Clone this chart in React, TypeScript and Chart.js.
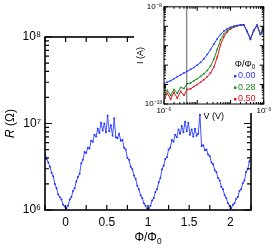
import React, { useEffect, useRef } from 'react';
import { Chart, registerables } from 'chart.js';
Chart.register(...registerables);

// ---------- main panel data: R (Ohm) vs flux ----------
const phi = [
  -0.25, -0.23, -0.21, -0.19, -0.17, -0.15, -0.13, -0.11, -0.09, -0.07, -0.05, -0.03, -0.01,
  0.01, 0.03, 0.05, 0.07, 0.09, 0.11, 0.13, 0.15, 0.17, 0.19, 0.21, 0.23, 0.25, 0.27, 0.29,
  0.31, 0.33, 0.35, 0.37, 0.39, 0.41, 0.43, 0.45, 0.47, 0.49, 0.51, 0.53, 0.55, 0.57, 0.59,
  0.61, 0.63, 0.65, 0.67, 0.69, 0.71, 0.73, 0.75, 0.77, 0.79, 0.81, 0.83, 0.85, 0.87, 0.89,
  0.91, 0.93, 0.95, 0.97, 0.99, 1.01, 1.03, 1.05, 1.07, 1.09, 1.11, 1.13, 1.15, 1.17, 1.19,
  1.21, 1.23, 1.25, 1.27, 1.29, 1.31, 1.33, 1.35, 1.37, 1.39, 1.41, 1.43, 1.45, 1.47, 1.49,
  1.51, 1.53, 1.55, 1.57, 1.59, 1.61, 1.63, 1.65, 1.67, 1.69, 1.71, 1.73, 1.75, 1.77, 1.79,
  1.81, 1.83, 1.85, 1.87, 1.89, 1.91, 1.93, 1.95, 1.97, 1.99, 2.01, 2.03, 2.05, 2.07, 2.09,
  2.11, 2.13, 2.15, 2.17, 2.19, 2.21, 2.23, 2.25,
];
const resistanceMOhm = [
  4.47, 3.89, 3.55, 3.16, 2.69, 2.45, 2.0, 1.78, 1.51, 1.41, 1.32, 1.15, 1.1,
  1.05, 1.12, 1.32, 1.41, 1.66, 1.78, 2.14, 2.4, 2.63, 3.47, 3.8, 4.68, 4.57, 5.25, 5.13,
  6.31, 6.17, 7.41, 7.08, 8.71, 7.76, 10.23, 8.32, 10.0, 7.94, 12.3, 8.13, 9.55, 7.24, 11.48,
  6.92, 6.76, 7.59, 6.31, 6.46, 5.25, 5.01, 3.98, 3.8, 3.16, 2.95, 2.51, 2.29, 1.91, 1.74,
  1.48, 1.38, 1.2, 1.12, 1.02, 1.05, 1.12, 1.29, 1.38, 1.62, 1.74, 2.09, 2.34, 2.95, 3.24,
  3.89, 4.07, 5.01, 5.25, 6.46, 6.17, 7.41, 6.92, 8.51, 7.59, 9.33, 7.94, 10.47, 8.13, 10.23,
  7.41, 8.51, 7.08, 8.71, 7.24, 7.59, 12.59, 5.5, 5.62, 4.9, 5.01, 4.37, 4.17, 3.55, 3.39,
  2.88, 2.75, 2.34, 2.19, 1.86, 1.74, 1.48, 1.38, 1.2, 1.12, 1.05, 1.15, 1.2, 1.35, 1.41,
  1.66, 1.74, 2.04, 2.19, 2.75, 2.95, 3.63, 4.17,
];
const mainXLabels = [0, 0.5, 1, 1.5, 2];
const mainXTickMarks = [-0.25, 0, 0.25, 0.5, 0.75, 1, 1.25, 1.5, 1.75, 2, 2.25];
const mainYLabels = [1e6, 1e7, 1e8];

// ---------- inset data: I (A) vs V (V) ----------
const voltage = [
  1.0e-6, 1.26e-6, 1.58e-6, 2.0e-6, 2.51e-6, 3.16e-6, 3.98e-6, 5.01e-6, 6.31e-6, 7.94e-6,
  1.0e-5, 1.26e-5, 1.58e-5, 2.0e-5, 2.51e-5, 3.16e-5, 3.98e-5, 5.01e-5, 6.31e-5, 7.94e-5,
  1.0e-4, 1.26e-4, 1.58e-4, 2.0e-4, 2.51e-4, 3.16e-4, 3.98e-4, 5.01e-4, 6.31e-4, 7.94e-4,
  1.0e-3,
];
const current000 = [
  1.12e-12, 1.35e-12, 1.58e-12, 2.0e-12, 2.51e-12, 3.16e-12, 3.98e-12, 4.79e-12, 6.03e-12, 7.59e-12,
  1.0e-11, 1.38e-11, 2.09e-11, 3.55e-11, 6.31e-11, 1.2e-10, 2.24e-10, 3.8e-10, 5.62e-10, 7.41e-10,
  8.91e-10, 1.0e-9, 1.1e-9, 1.17e-9, 1.2e-9, 5.62e-10, 2.24e-10, 6.31e-10, 1.17e-9, 3.98e-10,
  8.91e-10,
];
const current028 = [
  2.51e-13, 5.01e-13, 2.82e-13, 5.62e-13, 3.55e-13, 7.08e-13, 6.31e-13, 1.12e-12, 1.2e-12, 1.58e-12,
  2.0e-12, 2.63e-12, 3.55e-12, 5.25e-12, 8.91e-12, 2.0e-11, 6.31e-11, 2.0e-10, 3.98e-10, 6.03e-10,
  7.94e-10, 9.55e-10, 1.07e-9, 1.15e-9, 1.17e-9, 5.37e-10, 2.19e-10, 6.03e-10, 1.12e-9, 3.8e-10,
  8.51e-10,
];
const current050 = [
  1.78e-13, 3.55e-13, 1.78e-13, 3.98e-13, 2.0e-13, 4.47e-13, 2.82e-13, 5.62e-13, 6.03e-13, 7.94e-13,
  1.0e-12, 1.32e-12, 1.78e-12, 2.51e-12, 3.98e-12, 7.94e-12, 2.51e-11, 1.12e-10, 2.82e-10, 5.01e-10,
  7.08e-10, 8.91e-10, 1.02e-9, 1.12e-9, 1.15e-9, 5.25e-10, 2.09e-10, 5.89e-10, 1.1e-9, 3.72e-10,
  8.32e-10,
];
const insetSeriesLabels = ['0.00', '0.28', '0.50'];
const insetColors = ['#2f3dff', '#1e8a1e', '#e3121b'];
const insetXLabels = [1e-6, 1e-3];
const insetYLabels = [1e-13, 1e-8];
const markerVoltage = 4.8e-6;

const FONT = '"Liberation Sans", Arial, sans-serif';
const SUP: Record<string, string> = {
  '-': '⁻', '0': '⁰', '1': '¹', '2': '²', '3': '³', '4': '⁴', '5': '⁵', '6': '⁶', '7': '⁷', '8': '⁸', '9': '⁹',
};
const expLabel = (v: number) =>
  '10' + String(Math.round(Math.log10(v))).split('').map((c) => SUP[c]).join('');

function logTicks(min: number, max: number) {
  const out: { v: number; major: boolean }[] = [];
  for (let e = Math.floor(Math.log10(min)); e <= Math.ceil(Math.log10(max)); e++) {
    for (let m = 1; m < 10; m++) {
      const v = m * Math.pow(10, e);
      if (v >= min * 0.999 && v <= max * 1.001) out.push({ v, major: m === 1 });
    }
  }
  return out;
}

function drawSubText(ctx: CanvasRenderingContext2D, x: number, y: number, size: number) {
  ctx.font = `${size}px ${FONT}`;
  const main = 'Φ/Φ';
  const w1 = ctx.measureText(main).width;
  ctx.font = `${size * 0.7}px ${FONT}`;
  const w2 = ctx.measureText('0').width;
  const x0 = x - (w1 + w2) / 2;
  ctx.textAlign = 'left';
  ctx.textBaseline = 'middle';
  ctx.font = `${size}px ${FONT}`;
  ctx.fillText(main, x0, y);
  ctx.font = `${size * 0.7}px ${FONT}`;
  ctx.fillText('0', x0 + w1, y + size * 0.3);
}

const mainPlugin = {
  id: 'mainFrame',
  afterDraw(chart: any) {
    const { ctx, chartArea } = chart;
    const { left, right, top, bottom } = chartArea;
    const xs = chart.scales.x;
    const ys = chart.scales.y;
    ctx.save();
    ctx.strokeStyle = '#000';
    ctx.lineWidth = 1.6;
    ctx.strokeRect(left, top, right - left, bottom - top);
    ctx.lineWidth = 1.2;
    ctx.beginPath();
    mainXTickMarks.forEach((v) => {
      const px = xs.getPixelForValue(v);
      ctx.moveTo(px, bottom);
      ctx.lineTo(px, bottom - 5);
      ctx.moveTo(px, top);
      ctx.lineTo(px, top + 5);
    });
    logTicks(ys.min, ys.max).forEach(({ v, major }) => {
      const py = ys.getPixelForValue(v);
      const len = major ? 7 : 4;
      ctx.moveTo(left, py);
      ctx.lineTo(left + len, py);
      ctx.moveTo(right, py);
      ctx.lineTo(right - len, py);
    });
    ctx.stroke();
    ctx.fillStyle = '#000';
    ctx.translate(11, (top + bottom) / 2);
    ctx.rotate(-Math.PI / 2);
    ctx.font = `italic 12px ${FONT}`;
    const wR = ctx.measureText('R').width;
    ctx.font = `12px ${FONT}`;
    const wRest = ctx.measureText(' (Ω)').width;
    ctx.textAlign = 'left';
    ctx.textBaseline = 'middle';
    ctx.font = `italic 12px ${FONT}`;
    ctx.fillText('R', -(wR + wRest) / 2, 0);
    ctx.font = `12px ${FONT}`;
    ctx.fillText(' (Ω)', -(wR + wRest) / 2 + wR, 0);
    ctx.setTransform(1, 0, 0, 1, 0, 0);
    drawSubText(ctx, (left + right) / 2, 238, 12);
    ctx.restore();
  },
};

const insetPlugin = {
  id: 'insetFrame',
  beforeDraw(chart: any) {
    const { ctx } = chart;
    ctx.save();
    ctx.fillStyle = '#fff';
    ctx.fillRect(0, 0, chart.width, 113);
    ctx.restore();
  },
  beforeDatasetsDraw(chart: any) {
    const { ctx, chartArea } = chart;
    const px = chart.scales.x.getPixelForValue(markerVoltage);
    ctx.save();
    ctx.strokeStyle = '#8a8a8a';
    ctx.lineWidth = 1.4;
    ctx.beginPath();
    ctx.moveTo(px, chartArea.top);
    ctx.lineTo(px, chartArea.bottom);
    ctx.stroke();
    ctx.restore();
  },
  afterDraw(chart: any) {
    const { ctx, chartArea } = chart;
    const { left, right, top, bottom } = chartArea;
    const xs = chart.scales.x;
    const ys = chart.scales.y;
    ctx.save();
    ctx.strokeStyle = '#000';
    ctx.lineWidth = 1;
    ctx.strokeRect(left, top, right - left, bottom - top);
    ctx.beginPath();
    logTicks(xs.min, xs.max).forEach(({ v, major }) => {
      const p = xs.getPixelForValue(v);
      const len = major ? 4 : 2;
      ctx.moveTo(p, bottom);
      ctx.lineTo(p, bottom - len);
      ctx.moveTo(p, top);
      ctx.lineTo(p, top + len);
    });
    logTicks(ys.min, ys.max).forEach(({ v, major }) => {
      const p = ys.getPixelForValue(v);
      const len = major ? 4 : 2;
      ctx.moveTo(left, p);
      ctx.lineTo(left + len, p);
      ctx.moveTo(right, p);
      ctx.lineTo(right - len, p);
    });
    ctx.stroke();
    ctx.fillStyle = '#000';
    ctx.textAlign = 'center';
    ctx.textBaseline = 'middle';
    ctx.font = `9px ${FONT}`;
    ctx.fillText('V (V)', (left + right) / 2, 117);
    ctx.save();
    ctx.translate(7, (top + bottom) / 2);
    ctx.rotate(-Math.PI / 2);
    ctx.fillText('I (A)', 0, 0);
    ctx.restore();
    drawSubText(ctx, 111, 65, 9);
    ctx.textAlign = 'left';
    ctx.textBaseline = 'middle';
    ctx.font = `9px ${FONT}`;
    insetSeriesLabels.forEach((lab, i) => {
      const y = 76 + i * 11.5;
      ctx.fillStyle = insetColors[i];
      ctx.fillRect(100, y - 1, 2.4, 2.4);
      ctx.fillText(lab, 104, y);
    });
    ctx.restore();
  },
};

export default function App() {
  const mainRef = useRef<HTMLCanvasElement>(null);
  const insetRef = useRef<HTMLCanvasElement>(null);

  useEffect(() => {
    const main = new Chart(mainRef.current!, {
      type: 'line',
      data: {
        datasets: [
          {
            data: phi.map((p, i) => ({ x: p, y: resistanceMOhm[i] * 1e6 })),
            borderColor: '#4050ff',
            backgroundColor: '#2233ff',
            borderWidth: 1,
            pointRadius: 1,
            pointBorderWidth: 0,
            tension: 0,
          },
        ],
      },
      options: {
        animation: false,
        responsive: false,
        maintainAspectRatio: false,
        layout: { padding: { top: 37, right: 22, left: 0, bottom: 0 } },
        plugins: { legend: { display: false }, tooltip: { enabled: false } },
        scales: {
          x: {
            type: 'linear',
            min: -0.25,
            max: 2.25,
            grid: { display: false, drawTicks: false },
            border: { display: false },
            afterBuildTicks: (s: any) => {
              s.ticks = mainXLabels.map((v) => ({ value: v }));
            },
            afterFit: (s: any) => {
              s.height = 40;
            },
            ticks: {
              autoSkip: false,
              maxRotation: 0,
              padding: 5,
              color: '#000',
              font: { family: FONT, size: 12 },
              callback: (v: any) => String(v),
            },
          },
          y: {
            type: 'logarithmic',
            min: 1e6,
            max: 1e8,
            grid: { display: false, drawTicks: false },
            border: { display: false },
            afterBuildTicks: (s: any) => {
              s.ticks = mainYLabels.map((v) => ({ value: v }));
            },
            afterFit: (s: any) => {
              s.width = 45;
            },
            ticks: {
              autoSkip: false,
              padding: 4,
              color: '#000',
              font: { family: FONT, size: 12 },
              callback: (v: any) => expLabel(Number(v)),
            },
          },
        },
      },
      plugins: [mainPlugin],
    } as any);

    const seriesData = [current000, current028, current050];
    const inset = new Chart(insetRef.current!, {
      type: 'line',
      data: {
        datasets: seriesData.map((arr, k) => ({
          data: voltage.map((v, i) => ({ x: v, y: arr[i] })),
          borderColor: insetColors[k],
          backgroundColor: insetColors[k],
          borderWidth: 1,
          pointRadius: 1.1,
          pointStyle: 'rect',
          pointBorderWidth: 0,
          tension: 0,
        })),
      },
      options: {
        animation: false,
        responsive: false,
        maintainAspectRatio: false,
        layout: { padding: { top: 4, right: 8, left: 0, bottom: 0 } },
        plugins: { legend: { display: false }, tooltip: { enabled: false } },
        scales: {
          x: {
            type: 'logarithmic',
            min: 1e-6,
            max: 1e-3,
            grid: { display: false, drawTicks: false },
            border: { display: false },
            afterBuildTicks: (s: any) => {
              s.ticks = insetXLabels.map((v) => ({ value: v }));
            },
            afterFit: (s: any) => {
              s.height = 21;
            },
            ticks: {
              autoSkip: false,
              maxRotation: 0,
              padding: 2,
              color: '#000',
              font: { family: FONT, size: 8 },
              callback: (v: any) => expLabel(Number(v)),
            },
          },
          y: {
            type: 'logarithmic',
            min: 1e-13,
            max: 1e-8,
            grid: { display: false, drawTicks: false },
            border: { display: false },
            afterBuildTicks: (s: any) => {
              s.ticks = insetYLabels.map((v) => ({ value: v }));
            },
            afterFit: (s: any) => {
              s.width = 30;
            },
            ticks: {
              autoSkip: false,
              padding: 2,
              color: '#000',
              font: { family: FONT, size: 8 },
              callback: (v: any) => expLabel(Number(v)),
            },
          },
        },
      },
      plugins: [insetPlugin],
    } as any);

    return () => {
      main.destroy();
      inset.destroy();
    };
  }, []);

  return (
    <div style={{ position: 'fixed', left: 0, top: 0, width: 273, height: 250, background: '#fff' }}>
      <canvas ref={mainRef} width={273} height={250} style={{ position: 'absolute', left: 0, top: 0, width: 273, height: 250 }} />
      <canvas ref={insetRef} width={139} height={125} style={{ position: 'absolute', left: 134, top: 0, width: 139, height: 125 }} />
    </div>
  );
}
